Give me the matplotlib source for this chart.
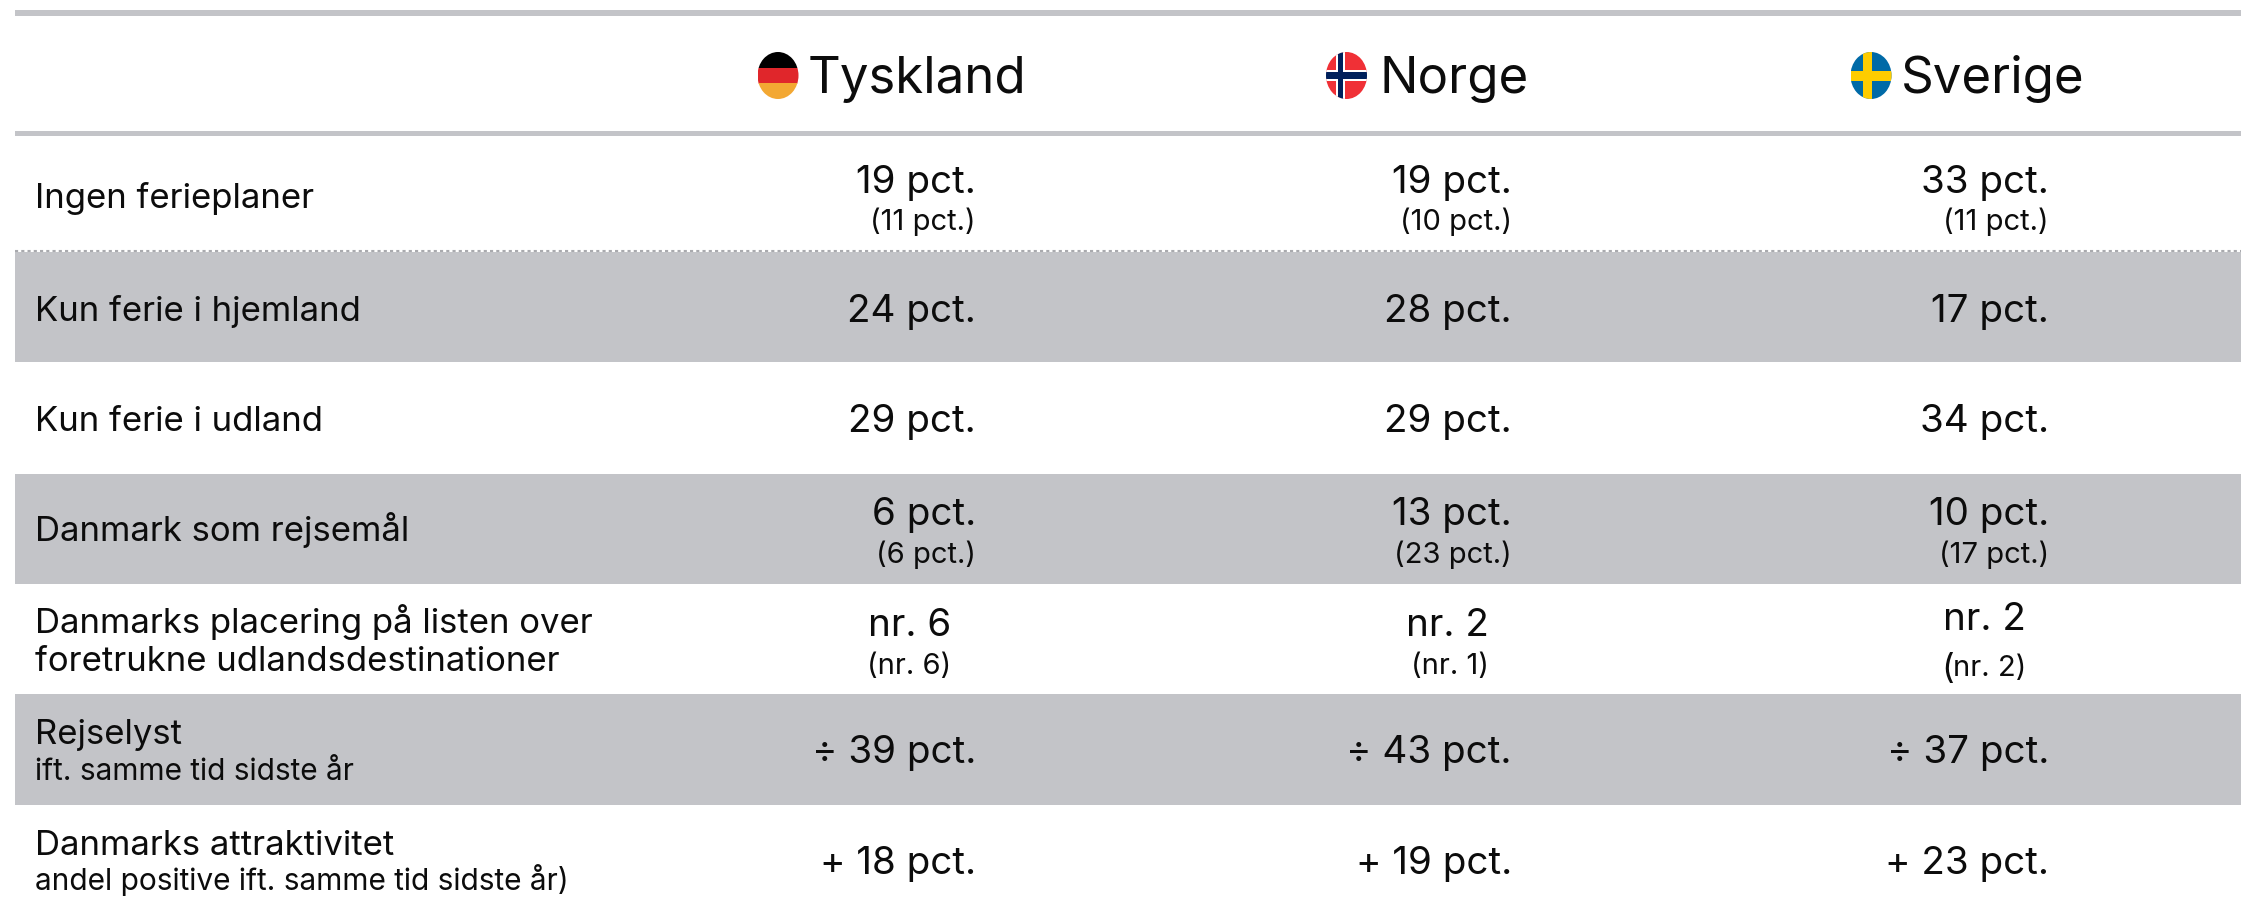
import matplotlib
matplotlib.use('Agg')
import matplotlib.pyplot as plt
from matplotlib.patches import Ellipse, Rectangle

plt.rcParams['font.family'] = ['Inter', 'DejaVu Sans']

# table contents
countries = ['Tyskland', 'Norge', 'Sverige']
tyskland = ['19 pct.', '24 pct.', '29 pct.', '6 pct.', 'nr. 6', '÷ 39 pct.', '+ 18 pct.']
norge = ['19 pct.', '28 pct.', '29 pct.', '13 pct.', 'nr. 2', '÷ 43 pct.', '+ 19 pct.']
sverige = ['33 pct.', '17 pct.', '34 pct.', '10 pct.', 'nr. 2', '÷ 37 pct.', '+ 23 pct.']
tyskland_prev = ['(11 pct.)', None, None, '(6 pct.)', '(nr. 6)', None, None]
norge_prev = ['(10 pct.)', None, None, '(23 pct.)', '(nr. 1)', None, None]
sverige_prev = ['(11 pct.)', None, None, '(17 pct.)', 'nr. 2)', None, None]

# (text, size) per line of the row labels
row_labels = [
    [('Ingen ferieplaner', 'big')],
    [('Kun ferie i hjemland', 'big')],
    [('Kun ferie i udland', 'big')],
    [('Danmark som rejsemål', 'big')],
    [('Danmarks placering på listen over', 'big'), ('foretrukne udlandsdestinationer', 'big')],
    [('Rejselyst', 'big'), ('ift. samme tid sidste år', 'small')],
    [('Danmarks attraktivitet', 'big'), ('andel positive ift. samme tid sidste år)', 'small')],
]

# layout, all in image pixels
W, H = 2241, 914
GREY = '#c3c4c8'
INK = '#0c0c0c'
LEFT = 15
LABEL_X = 35
shaded = [(252, 362), (474, 584), (694, 805)]
value_right = [976, 1512, 2049]
rank_right = [951, 1489, 2026]
value_base = [193, 322, 432, 525, 636, 763, 874]
prev_base = [230, None, None, 563, 674, None, None]
label_base = [[208], [321], [431], [541], [633, 671], [744, 780], [855, 890]]
flag_x = [778, 1346.5, 1871]
title_x = [808, 1380, 1901]

fig = plt.figure(figsize=(22.41, 9.14), dpi=100)
ax = fig.add_axes([0, 0, 1, 1])
ax.set_xlim(0, W)
ax.set_ylim(H, 0)
ax.axis('off')

# rules and shaded rows
ax.add_patch(Rectangle((LEFT, 10), W - LEFT, 5.5, color=GREY, lw=0))
ax.add_patch(Rectangle((LEFT, 130.5), W - LEFT, 5.5, color=GREY, lw=0))
for y0, y1 in shaded:
    ax.add_patch(Rectangle((LEFT, y0), W - LEFT, y1 - y0, color=GREY, lw=0))
ax.plot([LEFT, W], [251, 251], color='#a9aaae', lw=1.5, ls=(0, (1.5, 1.5)))


def clipped(patch, clip):
    ax.add_patch(patch)
    patch.set_clip_path(clip)


def flag(name, cx):
    cy, rx, ry = 75.5, 20.5, 23.5
    disc = Ellipse((cx, cy), rx * 2, ry * 2, color='white', lw=0)
    ax.add_patch(disc)
    x0, y0 = cx - rx, cy - ry
    if name == 'Tyskland':
        for top, col in zip((0, 15.5, 31), ('#000000', '#e0262b', '#f3a833')):
            clipped(Rectangle((x0, y0 + top), rx * 2, 16, color=col, lw=0), disc)
    elif name == 'Norge':
        clipped(Rectangle((x0, y0), rx * 2, ry * 2, color='#f03036', lw=0), disc)
        clipped(Rectangle((cx - 11, y0), 9, ry * 2, color='white', lw=0), disc)
        clipped(Rectangle((x0, cy - 6), rx * 2, 11, color='white', lw=0), disc)
        clipped(Rectangle((cx - 9, y0), 5, ry * 2, color='#00205b', lw=0), disc)
        clipped(Rectangle((x0, cy - 3.5), rx * 2, 6.5, color='#00205b', lw=0), disc)
    else:
        clipped(Rectangle((x0, y0), rx * 2, ry * 2, color='#006aa7', lw=0), disc)
        clipped(Rectangle((cx - 8, y0), 9, ry * 2, color='#fecc00', lw=0), disc)
        clipped(Rectangle((x0, cy - 5), rx * 2, 10, color='#fecc00', lw=0), disc)


# header
for name, fx, tx in zip(countries, flag_x, title_x):
    flag(name, fx)
    ax.text(tx, 93, name, fontsize=36.7, color=INK, ha='left', va='baseline')

# row labels
for lines, bases in zip(row_labels, label_base):
    for (txt, size), y in zip(lines, bases):
        ax.text(LABEL_X, y, txt, fontsize=25 if size == 'big' else 21.5,
                color=INK, ha='left', va='baseline')

# values
columns = [tyskland, norge, sverige]
columns_prev = [tyskland_prev, norge_prev, sverige_prev]
for c in range(3):
    for r, val in enumerate(columns[c]):
        is_rank = val.startswith('nr.')
        x = rank_right[c] if is_rank else value_right[c]
        # the Swedish rank sits a bit higher in the original
        y = value_base[r] - (6 if is_rank and c == 2 else 0)
        ax.text(x, y, val, fontsize=27.8, color=INK, ha='right', va='baseline')
        prev = columns_prev[c][r]
        if prev:
            py = prev_base[r] + (2 if is_rank and c == 2 else 0)
            ax.text(x, py, prev, fontsize=21, color=INK, ha='right', va='baseline')
            if is_rank and c == 2:
                # oversized opening bracket
                ax.text(1941, py + 2, '(', fontsize=25, color=INK, ha='left', va='baseline')

fig.savefig('out.png', dpi=100)
